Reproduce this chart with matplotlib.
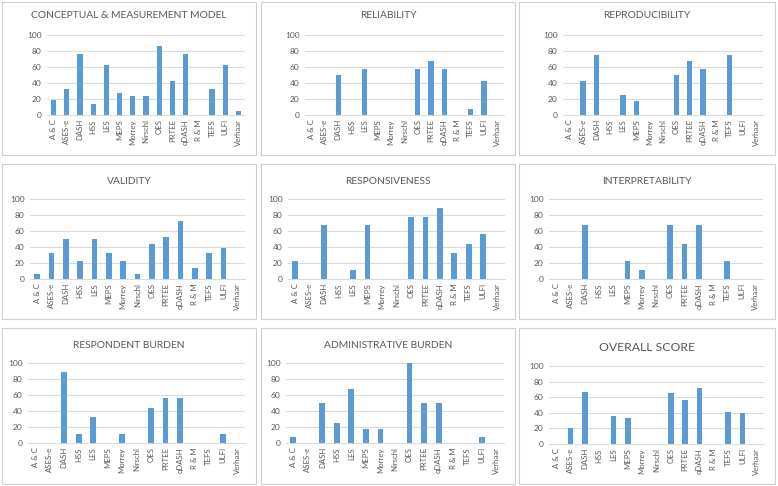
import matplotlib.pyplot as plt
from matplotlib.patches import Rectangle

plt.rcParams['font.family'] = ['Lato', 'DejaVu Sans']

# ── data ──────────────────────────────────────────────────────────────────────
instruments = ['A & C', 'ASES-e', 'DASH', 'HSS', 'LES', 'MEPS', 'Morrey', 'Nirschl',
               'OES', 'PRTEE', 'qDASH', 'R & M', 'TEFS', 'ULFI', 'Verhaar']

conceptual       = [19, 33, 76, 14, 62, 28, 24, 24, 86, 43, 76, 0, 33, 62, 5]
reliability      = [0, 0, 50, 0, 58, 0, 0, 0, 58, 67, 58, 0, 8, 42, 0]
reproducibility  = [0, 42, 75, 0, 25, 17, 0, 0, 50, 67, 58, 0, 75, 0, 0]
validity         = [6, 33, 50, 22, 50, 33, 22, 6, 44, 53, 72, 14, 33, 39, 0]
responsiveness   = [22, 0, 67, 0, 11, 67, 0, 0, 78, 78, 89, 33, 44, 56, 0]
interpretability = [0, 0, 67, 0, 0, 22, 11, 0, 67, 44, 67, 0, 22, 0, 0]
respondent       = [0, 0, 89, 11, 33, 0, 11, 0, 44, 56, 56, 0, 0, 11, 0]
administrative   = [8, 0, 50, 25, 67, 17, 17, 0, 100, 50, 50, 0, 0, 8, 0]
overall          = [0, 21, 67, 0, 36, 33, 0, 0, 66, 57, 72, 0, 41, 40, 0]

titles = ['CONCEPTUAL & MEASUREMENT MODEL', 'RELIABILITY', 'REPRODUCIBILITY',
          'VALIDITY', 'RESPONSIVENESS', 'INTERPRETABILITY',
          'RESPONDENT BURDEN', 'ADMINISTRATIVE BURDEN', 'OVERALL SCORE']
series = [conceptual, reliability, reproducibility, validity, responsiveness,
          interpretability, respondent, administrative, overall]

# ── style ─────────────────────────────────────────────────────────────────────
BAR   = '#5B9BD5'
GRID  = '#D9D9D9'
TXT   = '#595959'
FRAME = '#D0D0D0'

W, H = 778, 486
fig = plt.figure(figsize=(W / 100, H / 100), dpi=100)
fig.patch.set_facecolor('white')

# panel frames (x0, y0, x1, y1) in pixels, top-left origin
frames = [(2, 2, 256, 155), (261, 2, 515, 155), (519, 2, 775, 155),
          (2, 164, 256, 319), (261, 164, 515, 319), (519, 164, 775, 319),
          (2, 328, 256, 484), (261, 328, 515, 484), (519, 328, 775, 484)]
# plot areas
areas = [(47, 35, 245, 115), (305, 35, 504, 115), (563, 35, 763, 115),
         (30, 199, 245, 279), (288, 199, 505, 279), (549, 199, 763, 279),
         (28, 363, 245, 443), (286, 363, 504, 443), (549, 366, 764, 444)]
title_y = [16, 16, 16, 181, 181, 181, 345, 345, 347]


def px_axes(x0, y0, x1, y1):
    return fig.add_axes([x0 / W, 1 - y1 / H, (x1 - x0) / W, (y1 - y0) / H])


for i, vals in enumerate(series):
    fx0, fy0, fx1, fy1 = frames[i]
    fig.patches.append(Rectangle((fx0 / W, 1 - fy1 / H), (fx1 - fx0) / W, (fy1 - fy0) / H,
                                 transform=fig.transFigure, fill=False,
                                 edgecolor=FRAME, lw=0.8))
    ax = px_axes(*areas[i])
    ax.bar(range(len(instruments)), vals, width=0.4, color=BAR, zorder=3)
    ax.set_xlim(-0.5, len(instruments) - 0.5)
    ax.set_ylim(0, 100)
    ax.set_yticks(range(0, 101, 20))
    ax.set_xticks(range(len(instruments)))
    ax.set_xticklabels(instruments, rotation=90, fontsize=5.6, color=TXT)
    ax.tick_params(axis='y', labelsize=6.0, labelcolor=TXT, length=0, pad=4)
    ax.tick_params(axis='x', length=0, pad=3)
    ax.grid(axis='y', color=GRID, lw=0.7, zorder=0)
    for s in ('top', 'right', 'left'):
        ax.spines[s].set_visible(False)
    ax.spines['bottom'].set_color(GRID)
    ax.spines['bottom'].set_linewidth(0.7)
    ax.set_facecolor('none')

    fs = 8.8 if i == 8 else 7.4
    fig.text((fx0 + fx1) / 2 / W, 1 - title_y[i] / H, titles[i],
             ha='center', va='center', fontsize=fs, color=TXT)

fig.savefig('out.png', dpi=100, facecolor='white')
